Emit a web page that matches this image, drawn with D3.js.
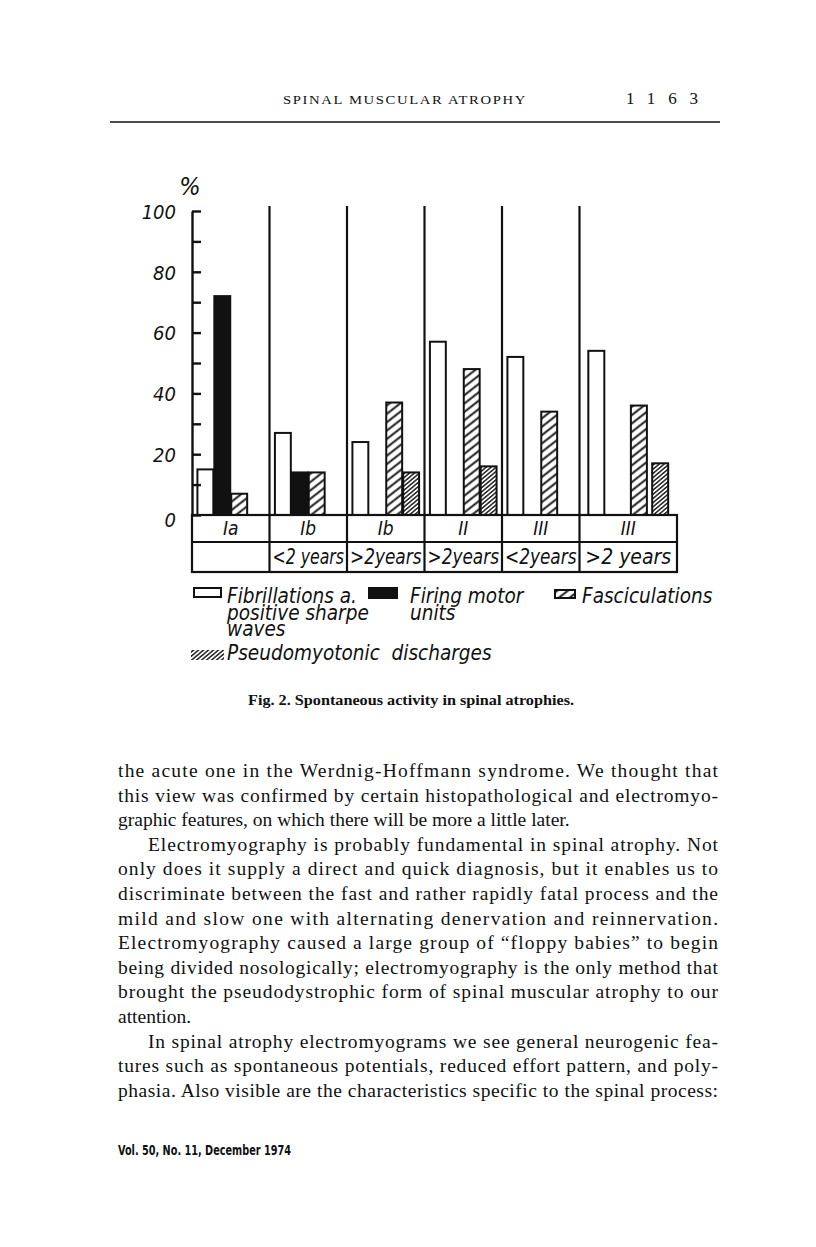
<!DOCTYPE html>
<head>
<meta charset="utf-8">
<script src="https://d3js.org/d3.v7.min.js"></script>
<style>
  body { margin: 0; background: #fff; }
  svg text { fill: #111; }
</style>
</head>
<body>
<script>
const width = 816, height = 1247;

// chart values (percent), one entry per column of the table
const types = ["Ia", "Ib", "Ib", "II", "III", "III"];
const ages = ["", "<2 years", ">2years", ">2years", "<2years", ">2 years"];
const fibrillations = [15, 27, 24, 57, 52, 54];
const firing = [72, 14, null, null, null, null];
const fasciculations = [7, 14, 37, 48, 34, 36];
const pseudomyotonic = [null, null, 14, 16, null, 17];
const seriesKeys = ["fib", "firing", "fasc", "pseudo"];
const yTickValues = d3.range(0, 101, 10);
const yLabelValues = [0, 20, 40, 60, 80, 100];

const legendFib = ["Fibrillations a.", "positive sharpe", "waves"];
const legendFiring = ["Firing motor", "units"];
const legendFasc = ["Fasciculations"];
const legendPseudo = ["Pseudomyotonic  discharges"];

const headerTitle = "SPINAL MUSCULAR ATROPHY";
const pageNumber = "1163";
const caption = "Fig. 2. Spontaneous activity in spinal atrophies.";
const footer = "Vol. 50, No. 11, December 1974";
// [text, indented, justified]
const bodyLines = [
  ["the acute one in the Werdnig-Hoffmann syndrome. We thought that", 0, 1],
  ["this view was confirmed by certain histopathological and electromyo-", 0, 1],
  ["graphic features, on which there will be more a little later.", 0, 0],
  ["Electromyography is probably fundamental in spinal atrophy. Not", 1, 1],
  ["only does it supply a direct and quick diagnosis, but it enables us to", 0, 1],
  ["discriminate between the fast and rather rapidly fatal process and the", 0, 1],
  ["mild and slow one with alternating denervation and reinnervation.", 0, 1],
  ["Electromyography caused a large group of \u201cfloppy babies\u201d to begin", 0, 1],
  ["being divided nosologically; electromyography is the only method that", 0, 1],
  ["brought the pseudodystrophic form of spinal muscular atrophy to our", 0, 1],
  ["attention.", 0, 0],
  ["In spinal atrophy electromyograms we see general neurogenic fea-", 1, 1],
  ["tures such as spontaneous potentials, reduced effort pattern, and poly-", 0, 1],
  ["phasia. Also visible are the characteristics specific to the spinal process:", 0, 1]
];

const values = { fib: fibrillations, firing: firing, fasc: fasciculations, pseudo: pseudomyotonic };

const chartFont = "'Liberation Sans Narrow', 'DejaVu Sans Condensed', 'Arial Narrow', 'Liberation Sans', sans-serif";
const serif = "'Liberation Serif', 'DejaVu Serif', serif";

const svg = d3.select("body").append("svg")
    .attr("width", width)
    .attr("height", height);

const defs = svg.append("defs");
function hatch(id, gap, angle, sw) {
  const p = defs.append("pattern")
      .attr("id", id)
      .attr("patternUnits", "userSpaceOnUse")
      .attr("width", 10).attr("height", gap)
      .attr("patternTransform", "rotate(" + angle + ")");
  p.append("rect").attr("width", 10).attr("height", gap).attr("fill", "#fff");
  p.append("line")
      .attr("x1", 0).attr("x2", 10)
      .attr("y1", gap / 2).attr("y2", gap / 2)
      .attr("stroke", "#111").attr("stroke-width", sw);
}
hatch("fasc", 6.6, -38, 1.9);
hatch("pseudo", 3.2, -40, 1.4);

const fills = { fib: "#fff", firing: "#111", fasc: "url(#fasc)", pseudo: "url(#pseudo)" };

// scales
const x = d3.scaleBand().domain(d3.range(types.length)).range([192, 657]);
const tableRight = 677;
const y = d3.scaleLinear().domain([0, 100]).range([515, 211]);
const inner = d3.scaleBand().domain(seriesKeys).paddingInner(0.06).paddingOuter(0.32);
const rowMid = 542, tableBottom = 572;

function groupEnd(i) { return i < types.length - 1 ? x(i + 1) : tableRight; }

// squeeze a text to a target width
function fitWidth(sel, w) {
  sel.attr("textLength", w).attr("lengthAdjust", "spacingAndGlyphs");
}

// bars
const g = svg.append("g");
types.forEach((t, i) => {
  inner.range([x(i), groupEnd(i)]);
  const bw = Math.min(inner.bandwidth(), 16);
  seriesKeys.forEach(k => {
    const v = values[k][i];
    if (v == null) return;
    g.append("rect")
        .attr("x", inner(k) + (inner.bandwidth() - bw) / 2)
        .attr("y", y(v))
        .attr("width", bw)
        .attr("height", y(0) - y(v))
        .attr("fill", fills[k])
        .attr("stroke", "#111")
        .attr("stroke-width", 2);
  });
});

// dividers between columns
d3.range(1, types.length).forEach(i => {
  svg.append("line")
      .attr("x1", x(i)).attr("x2", x(i))
      .attr("y1", y(100) - 5).attr("y2", tableBottom)
      .attr("stroke", "#111").attr("stroke-width", 2.2);
});

// table below
svg.append("rect")
    .attr("x", x(0)).attr("y", y(0))
    .attr("width", tableRight - x(0)).attr("height", tableBottom - y(0))
    .attr("fill", "none").attr("stroke", "#111").attr("stroke-width", 2.2);
svg.append("line")
    .attr("x1", x(0)).attr("x2", tableRight)
    .attr("y1", rowMid).attr("y2", rowMid)
    .attr("stroke", "#111").attr("stroke-width", 2);

types.forEach((t, i) => {
  const cx = (x(i) + groupEnd(i)) / 2;
  svg.append("text")
      .attr("x", cx).attr("y", 535)
      .attr("text-anchor", "middle")
      .style("font", "italic 19px " + chartFont)
      .text(t);
  if (ages[i]) {
    const tx = svg.append("text")
        .attr("x", cx).attr("y", 564)
        .attr("text-anchor", "middle")
        .style("font", "italic 21px " + chartFont)
        .text(ages[i]);
    const w = tx.node().getComputedTextLength();
    const maxW = groupEnd(i) - x(i) - 6;
    if (w > maxW) fitWidth(tx, maxW);
  }
});

// y axis
const axis = svg.append("g")
    .attr("transform", "translate(" + x(0) + ",0)")
    .call(d3.axisRight(y).tickValues(yTickValues).tickSize(9).tickSizeOuter(0).tickFormat(""));
axis.selectAll("path, line").attr("stroke", "#111").attr("stroke-width", 2.4);

const labels = svg.append("g")
    .attr("transform", "translate(" + x(0) + ",0)")
    .call(d3.axisLeft(y).tickValues(yLabelValues).tickSize(0).tickPadding(16));
labels.select(".domain").remove();
labels.selectAll("text")
    .style("font", "italic 20px " + chartFont)
    .attr("fill", "#111")
    .attr("dy", "0.36em");
labels.selectAll("text").filter(d => d === 0).attr("dy", "0.55em");

svg.append("text")
    .attr("x", 190).attr("y", 195)
    .attr("text-anchor", "middle")
    .style("font", "italic 25px " + chartFont)
    .text("%");

// legend
const legendFontPx = 22;
const probe = svg.append("text").style("font", "italic " + legendFontPx + "px " + chartFont).text(legendFib[0]);
const squeeze = 130 / probe.node().getComputedTextLength();
probe.remove();

function legendText(lines, tx, ty) {
  lines.forEach((s, j) => {
    const t = svg.append("text")
        .attr("x", tx).attr("y", ty + j * 16.5)
        .style("font", "italic " + legendFontPx + "px " + chartFont)
        .style("white-space", "pre")
        .text(s);
    fitWidth(t, t.node().getComputedTextLength() * squeeze);
  });
}
function legendBox(bx, by, w, h, fill, stroke) {
  svg.append("rect")
      .attr("x", bx).attr("y", by).attr("width", w).attr("height", h)
      .attr("fill", fill).attr("stroke", stroke ? "#111" : "none").attr("stroke-width", 2);
}
legendBox(194, 588, 27, 9, fills.fib, true);
legendText(legendFib, 227, 603);
legendBox(369, 588, 28, 10, fills.firing, true);
legendText(legendFiring, 410, 603);
legendBox(555, 590, 20, 8, fills.fasc, true);
legendText(legendFasc, 582, 603);
legendBox(191, 650, 33, 10, fills.pseudo, false);
legendText(legendPseudo, 227, 660);

// page furniture
const head = svg.append("text")
    .attr("x", 283).attr("y", 104)
    .style("font", "13.5px " + serif)
    .style("letter-spacing", "1.5px")
    .text(headerTitle);
fitWidth(head, 244);
const pn = svg.append("text")
    .attr("x", 626).attr("y", 104)
    .style("font", "17px " + serif)
    .text(pageNumber)
    .attr("textLength", 72).attr("lengthAdjust", "spacing");
svg.append("line")
    .attr("x1", 110).attr("x2", 720)
    .attr("y1", 122).attr("y2", 122)
    .attr("stroke", "#111").attr("stroke-width", 1.5);

const cap = svg.append("text")
    .attr("x", 248).attr("y", 705)
    .style("font", "bold 14px " + serif)
    .text(caption);
fitWidth(cap, 326);

const left = 118, right = 718, indent = 30, lead = 24.6;
bodyLines.forEach((l, i) => {
  const x0 = left + (l[1] ? indent : 0);
  const t = svg.append("text")
      .attr("x", x0).attr("y", 777 + i * lead)
      .style("font", "19.5px " + serif)
      .text(l[0]);
  if (l[2]) t.attr("textLength", right - x0).attr("lengthAdjust", "spacing");
});

const foot = svg.append("text")
    .attr("x", 118).attr("y", 1155)
    .style("font", "bold 14px " + chartFont)
    .text(footer);
fitWidth(foot, 173);
</script>
</body>
